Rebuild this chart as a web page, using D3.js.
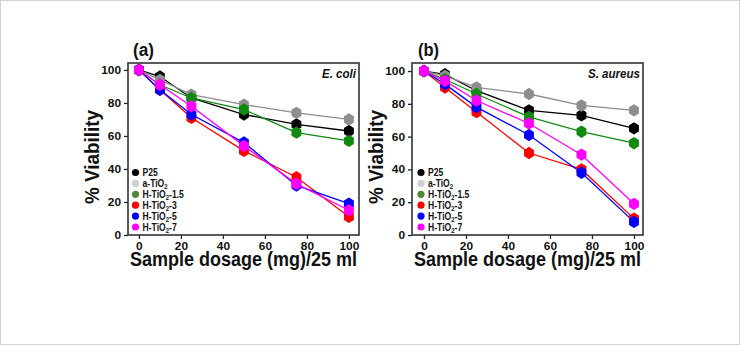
<!DOCTYPE html>
<html>
<head>
<meta charset="utf-8">
<script src="https://cdn.jsdelivr.net/npm/d3@7"></script>
<style>
  html, body { margin: 0; padding: 0; background: #fff; }
  svg { display: block; font-family: "Liberation Sans", Arial, sans-serif; }
</style>
</head>
<body>
<svg id="chart" width="740" height="345"></svg>
<script>
// Dosage of sample (mg per 25 ml)
const dosage = [0, 10, 25, 50, 75, 100];
const xTicks = [0, 20, 40, 60, 80, 100];
const yTicks = [0, 20, 40, 60, 80, 100];

// Series names (subscript handled when drawing)
const seriesNames = ["P25", "a-TiO2", "H-TiO2-1.5", "H-TiO2-3", "H-TiO2-5", "H-TiO2-7"];

// % viability against E. coli
const ecoliP25  = [100, 96, 83, 73, 67, 63];
const ecoliA    = [100, 94, 85, 79, 74, 70];
const ecoliH15  = [100, 91, 83, 76, 62, 57];
const ecoliH3   = [100, 88, 71, 51, 35, 11];
const ecoliH5   = [100, 88, 73, 56, 30, 19];
const ecoliH7   = [100, 91, 78, 54, 31, 15];

// % viability against S. aureus
const aureusP25 = [100, 98, 88, 76, 73, 65];
const aureusA   = [100, 97, 90, 86, 79, 76];
const aureusH15 = [100, 95, 86, 72, 63, 56];
const aureusH3  = [100, 90, 75, 50, 40, 10];
const aureusH5  = [100, 92, 78, 61, 38, 8];
const aureusH7  = [100, 94, 82, 68, 49, 19];

const lineColors   = ["#000000", "#8e8e8e", "#118a11", "#ff0000", "#0000ff", "#ff00ff"];
const legendColors = ["#000000", "#cfcfcf", "#4f8a3a", "#ff0000", "#0000ff", "#ff00ff"];

const svg = d3.select("#chart");

// light frame round the figure
svg.append("rect")
  .attr("x", 0.5).attr("y", 0.5).attr("width", 739).attr("height", 344)
  .attr("fill", "none").attr("stroke", "#d2d2d2").attr("stroke-width", 1);

// pointy-topped hexagon marker
function hexPath(cx, cy, r) {
  const pts = d3.range(6).map(k => {
    const a = Math.PI / 2 + k * Math.PI / 3;
    return [cx + r * Math.cos(a) * 0.92, cy + r * Math.sin(a)];
  });
  return "M" + pts.map(p => p.join(",")).join("L") + "Z";
}

function addName(sel, name) {
  const m = name.match(/^(.*TiO)2(.*)$/);
  if (m) {
    sel.append("tspan").text(m[1]);
    sel.append("tspan").attr("font-size", "7px").attr("dy", 2.5).text("2");
    sel.append("tspan").attr("dy", -2.5).text(m[2]);
  } else {
    sel.text(name);
  }
}

function panel(opt) {
  const g = svg.append("g");
  const x = d3.scaleLinear().domain(opt.xDomain).range([opt.left, opt.right]);
  const y = d3.scaleLinear().domain(opt.yDomain).range([opt.bottom, opt.top]);

  // axes
  const yAxis = g.append("g").attr("transform", `translate(${opt.left},0)`)
    .call(d3.axisLeft(y).tickValues(yTicks).tickSize(4).tickPadding(3));
  const xAxis = g.append("g").attr("transform", `translate(0,${opt.bottom})`)
    .call(d3.axisBottom(x).tickValues(xTicks).tickSize(4).tickPadding(3.2));
  [yAxis, xAxis].forEach(a => {
    a.select(".domain").remove();
    a.selectAll("line").attr("stroke", "#222").attr("stroke-width", 1.3);
    a.selectAll("text").attr("fill", "#111")
      .style("font-size", "11px").style("font-weight", "bold")
      .style("font-family", "'Liberation Sans', Arial, sans-serif")
      .attr("textLength", function () { return this.getComputedTextLength() * 1.08; })
      .attr("lengthAdjust", "spacingAndGlyphs");
  });

  // plot frame
  g.append("rect")
    .attr("x", opt.left).attr("y", opt.top)
    .attr("width", opt.right - opt.left).attr("height", opt.bottom - opt.top)
    .attr("fill", "none").attr("stroke", "#333").attr("stroke-width", 1.6);

  // series lines and markers
  const line = d3.line().x((d, i) => x(dosage[i])).y(d => y(d));
  opt.series.forEach((vals, s) => {
    g.append("path").datum(vals)
      .attr("d", line).attr("fill", "none")
      .attr("stroke", lineColors[s]).attr("stroke-width", 1.3);
  });
  opt.series.forEach((vals, s) => {
    g.selectAll(null).data(vals).enter().append("path")
      .attr("d", (d, i) => hexPath(x(dosage[i]), y(d), 6.2))
      .attr("fill", lineColors[s]);
  });

  // legend
  const leg = g.append("g");
  seriesNames.forEach((name, i) => {
    const ly = opt.legendY + i * 10.9;
    leg.append("circle").attr("cx", opt.legendX).attr("cy", ly).attr("r", 3.6)
      .attr("fill", legendColors[i]);
    const t = leg.append("text")
      .attr("transform", `translate(${opt.legendX + 7},${ly + 3.5}) scale(0.86,1)`)
      .attr("font-size", "10px").attr("font-weight", "bold").attr("fill", "#111");
    addName(t, name);
  });

  // organism label
  g.append("text")
    .attr("x", opt.right - 3).attr("y", opt.top + 15)
    .attr("text-anchor", "end")
    .attr("font-size", "12px").attr("font-weight", "bold").attr("font-style", "italic")
    .attr("fill", "#111").text(opt.organism)
    .attr("textLength", opt.organismLen).attr("lengthAdjust", "spacingAndGlyphs");

  // panel tag
  g.append("text")
    .attr("x", opt.tagX).attr("y", 56)
    .attr("font-size", "18px").attr("font-weight", "bold").attr("fill", "#111")
    .text(opt.tag).attr("textLength", 21).attr("lengthAdjust", "spacingAndGlyphs");

  // axis titles
  g.append("text")
    .attr("transform", `translate(${opt.left - 29},157) rotate(-90)`)
    .attr("text-anchor", "middle")
    .attr("font-size", "21px").attr("font-weight", "bold").attr("fill", "#111")
    .text("% Viability").attr("textLength", 94).attr("lengthAdjust", "spacingAndGlyphs");
  g.append("text")
    .attr("x", (opt.left + opt.right) / 2).attr("y", 266)
    .attr("text-anchor", "middle")
    .attr("font-size", "19.5px").attr("font-weight", "bold").attr("fill", "#111")
    .text("Sample dosage (mg)/25 ml").attr("textLength", 227).attr("lengthAdjust", "spacingAndGlyphs");
}

panel({
  left: 128, right: 359, top: 63, bottom: 235,
  xDomain: [-5.2, 104.8], yDomain: [0, 104.2],
  series: [ecoliP25, ecoliA, ecoliH15, ecoliH3, ecoliH5, ecoliH7],
  legendX: 135.5, legendY: 172.5,
  organism: "E. coli", organismLen: 34,
  tag: "(a)", tagX: 133
});

panel({
  left: 412, right: 643, top: 63, bottom: 235,
  xDomain: [-5.7, 104.3], yDomain: [0, 104.9],
  series: [aureusP25, aureusA, aureusH15, aureusH3, aureusH5, aureusH7],
  legendX: 421, legendY: 172.5,
  organism: "S. aureus", organismLen: 52,
  tag: "(b)", tagX: 418
});
</script>
</body>
</html>
